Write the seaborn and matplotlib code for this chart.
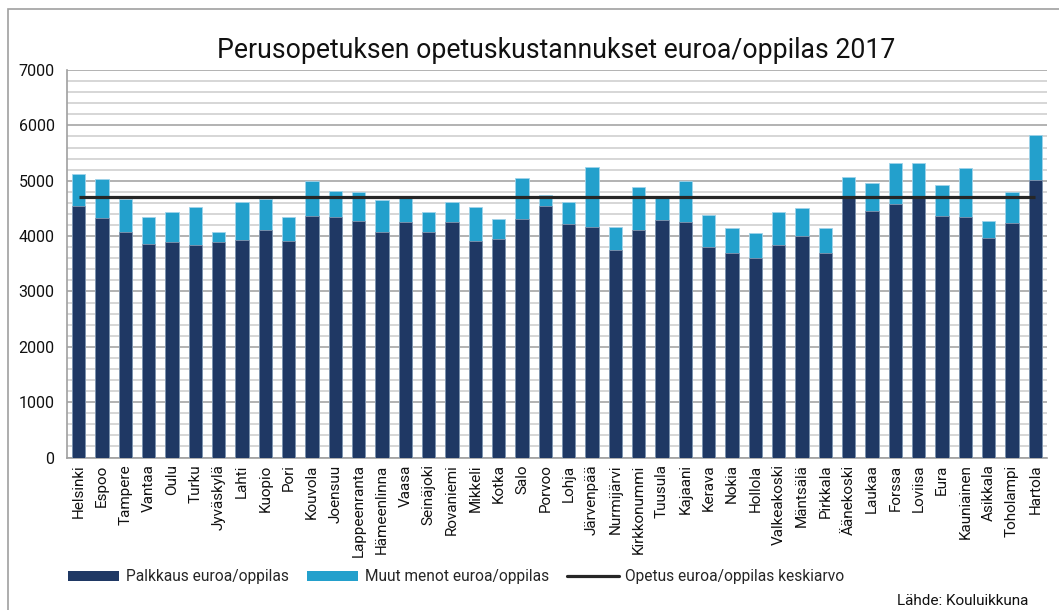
import numpy as np
import pandas as pd
import matplotlib
matplotlib.use("Agg")
import matplotlib.pyplot as plt
import seaborn as sns
from matplotlib.patches import Patch, Rectangle
from matplotlib.lines import Line2D
from matplotlib.ticker import MultipleLocator

cities = ["Helsinki", "Espoo", "Tampere", "Vantaa", "Oulu", "Turku", "Jyväskylä", "Lahti",
          "Kuopio", "Pori", "Kouvola", "Joensuu", "Lappeenranta", "Hämeenlinna", "Vaasa",
          "Seinäjoki", "Rovaniemi", "Mikkeli", "Kotka", "Salo", "Porvoo", "Lohja", "Järvenpää",
          "Nurmijärvi", "Kirkkonummi", "Tuusula", "Kajaani", "Kerava", "Nokia", "Hollola",
          "Valkeakoski", "Mäntsälä", "Pirkkala", "Äänekoski", "Laukaa", "Forssa", "Loviisa",
          "Eura", "Kauniainen", "Asikkala", "Toholampi", "Hartola"]

palkkaus = [4550, 4320, 4080, 3850, 3900, 3830, 3900, 3920, 4110, 3910, 4370, 4350, 4280, 4070,
            4250, 4070, 4260, 3910, 3940, 4300, 4540, 4210, 4160, 3740, 4110, 4290, 4260, 3810,
            3700, 3600, 3830, 4000, 3700, 4720, 4450, 4580, 4720, 4370, 4340, 3970, 4230, 5020]

muut = [570, 720, 590, 490, 530, 690, 170, 690, 560, 430, 630, 470, 510, 580, 450, 370, 360,
        610, 370, 750, 210, 410, 1090, 430, 770, 390, 740, 570, 450, 450, 600, 510, 450, 340,
        510, 740, 600, 550, 890, 310, 560, 810]

keskiarvo = 4700

series_names = ["Palkkaus euroa/oppilas", "Muut menot euroa/oppilas", "Opetus euroa/oppilas keskiarvo"]
title = "Perusopetuksen opetuskustannukset euroa/oppilas 2017"
source = "Lähde: Kouluikkuna"

dark = "#1f3864"
light = "#23a0cc"

sns.set_theme(style="white")
plt.rcParams["font.family"] = ["Roboto", "DejaVu Sans"]

df = pd.DataFrame({"kunta": cities, "palkkaus": palkkaus, "muut": muut})
df["yhteensa"] = df["palkkaus"] + df["muut"]

fig = plt.figure(figsize=(10.59, 6.10), dpi=100)
ax = fig.add_axes([67 / 1059, 1 - 457.5 / 610, (1047 - 67) / 1059, (457.5 - 70) / 610])

sns.barplot(data=df, x="kunta", y="yhteensa", color=light, width=0.56, ax=ax,
            edgecolor="#9fd3ea", linewidth=0.6, saturation=1, zorder=3)
sns.barplot(data=df, x="kunta", y="palkkaus", color=dark, width=0.56, ax=ax,
            edgecolor="#8496b0", linewidth=0.6, saturation=1, zorder=3)

ax.hlines(keskiarvo, 0, len(cities) - 1, color="#262626", linewidth=2.3, zorder=5)

ax.set_xlim(-0.5, len(cities) - 0.5)
ax.set_ylim(0, 7000)
ax.yaxis.set_major_locator(MultipleLocator(1000))
ax.yaxis.set_minor_locator(MultipleLocator(200))
ax.grid(which="major", axis="y", color="#a6a6a6", linewidth=1.2, zorder=0)
ax.grid(which="minor", axis="y", color="#d0d0d0", linewidth=1.2, zorder=0)
ax.set_axisbelow(True)

for s in ["top", "right"]:
    ax.spines[s].set_visible(False)
ax.spines["left"].set_color("#a0a0a0")
ax.spines["bottom"].set_color("#a0a0a0")
ax.spines["left"].set_linewidth(1.2)
ax.spines["bottom"].set_linewidth(1.2)

ax.set_xlabel("")
ax.set_ylabel("")
ax.set_xticks(np.arange(len(cities)))
ax.set_xticklabels(cities, rotation=90, fontsize=11, color="#111111")
ax.tick_params(axis="x", which="major", length=0, pad=5)
ax.set_xticks(np.arange(-0.5, len(cities)), minor=True)
ax.tick_params(axis="x", which="minor", length=5, color="#a0a0a0", width=1.0, direction="out")
ax.tick_params(axis="y", which="major", length=5, color="#a0a0a0", width=1.0, direction="out",
               labelsize=11.5, labelcolor="#111111", pad=4)
ax.tick_params(axis="y", which="minor", length=0)

fig.text(556 / 1059, 1 - 50 / 610, title, ha="center", va="center", fontsize=19.2, color="#111111")

handles = [Patch(facecolor=dark, edgecolor="none"),
           Patch(facecolor=light, edgecolor="none"),
           Line2D([0], [0], color="#262626", linewidth=2.3)]
fig.legend(handles, series_names, loc="center left", bbox_to_anchor=(68 / 1059, 1 - 577 / 610),
           ncol=3, frameon=False, fontsize=11.2, handlelength=3.3, handleheight=0.55,
           handletextpad=0.4, columnspacing=1.2, borderpad=0, borderaxespad=0)

fig.text(1028 / 1059, 1 - 601 / 610, source, ha="right", va="center", fontsize=11, color="#111111")

fig.patches.append(Rectangle((8 / 1059, -0.1), 1.2, 1.1 - 9 / 610, transform=fig.transFigure,
                             fill=False, edgecolor="#a0a0a0", linewidth=1.2, zorder=0))

fig.savefig("out.png", dpi=100)
